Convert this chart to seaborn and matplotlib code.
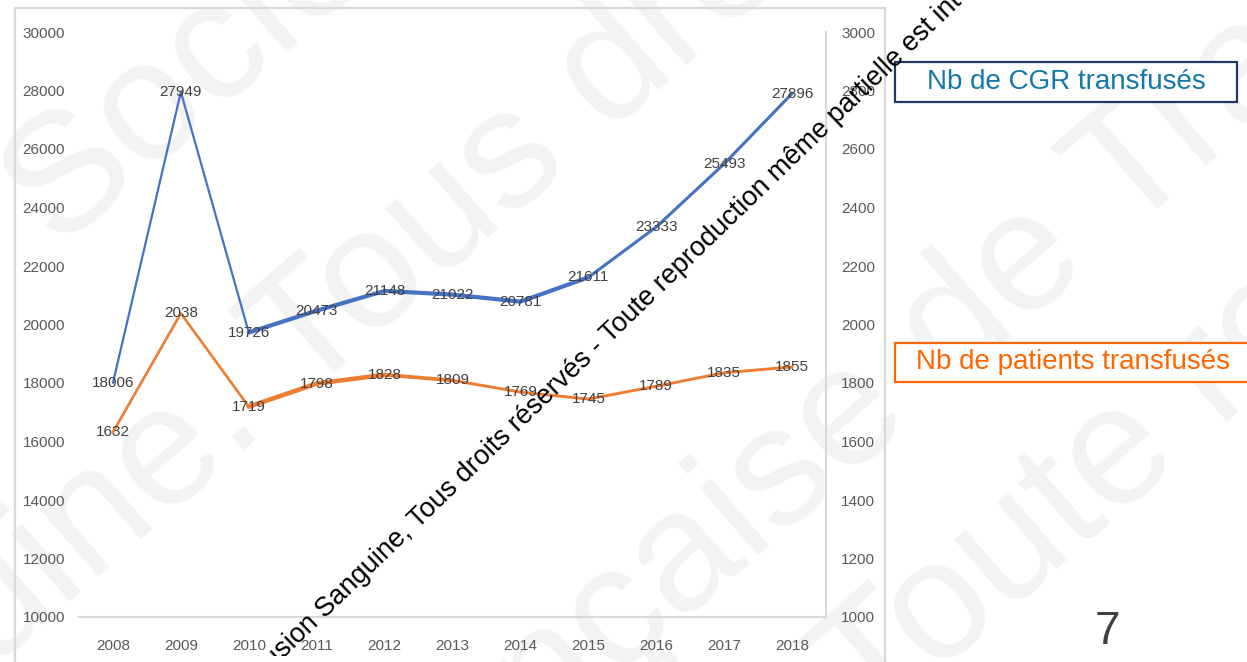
import numpy as np
import matplotlib
matplotlib.use("Agg")
import matplotlib.pyplot as plt
from matplotlib.patches import Rectangle
import seaborn as sns

# ---- data ----
years = ["2008", "2009", "2010", "2011", "2012", "2013", "2014", "2015", "2016", "2017", "2018"]
cgr_transfuses = [18006, 27949, 19726, 20473, 21148, 21022, 20781, 21611, 23333, 25493, 27896]
patients_transfuses = [1632, 2038, 1719, 1798, 1828, 1809, 1769, 1745, 1789, 1835, 1855]

left_ticks = list(range(10000, 30001, 2000))
right_ticks = list(range(1000, 3001, 200))

label_cgr = "Nb de CGR transfusés"
label_patients = "Nb de patients transfusés"
page_number = "7"

BLUE = "#4472C4"
ORANGE = "#ED7D31"
NUM_FONT = ["Liberation Sans", "DejaVu Sans"]
NUM_SIZE = 11

sns.set_theme(style="white")
plt.rcParams["font.family"] = ["Liberation Sans", "DejaVu Sans"]

W, H = 1247, 662
fig = plt.figure(figsize=(W / 100, H / 100), dpi=100)
fig.patch.set_facecolor("white")


def fx(px):
    return px / W


def fy(py):
    return 1 - py / H


# ---- faint background watermark ----
WM_COLOR = "#F3F3F3"
WM_SIZE = 122
WM_ROT = 41
wm_lines = [
    ((58, 251), "", "Société Française de Transfusion"),
    ((62, 608), "Transfusion Sangu", "ine. Tous droits réservés"),
    ((1020, 328), "Société Française d", "e Transfusion Sanguine"),
    ((870, 732), "", "Toute reproduction même"),
]
for (px, py), before, after in wm_lines:
    for txt, ha in ((before, "right"), (after, "left")):
        if txt:
            fig.text(fx(px), fy(py), txt, fontsize=WM_SIZE, color=WM_COLOR,
                     rotation=WM_ROT, rotation_mode="anchor", ha=ha, va="baseline",
                     family=["Liberation Sans", "DejaVu Sans"], zorder=-5)

# outer light frame around the chart
fig.patches.append(Rectangle((fx(15), fy(700)), fx(885) - fx(15), fy(8) - fy(700),
                             transform=fig.transFigure, fill=False,
                             edgecolor="#D9D9D9", linewidth=1.6, zorder=-1))

# ---- axes ----
ax = fig.add_axes([fx(79), fy(617), fx(826) - fx(79), fy(32) - fy(617)])
ax.set_facecolor("none")
ax2 = ax.twinx()
ax2.set_facecolor("none")

x = np.arange(len(years))

# CGR series, with the stroke widths varying along the line
cgr_widths = [(0, 2, 1.6), (2, 7, 3.0), (7, 10, 2.2)]
for a, b, w in cgr_widths:
    sns.lineplot(x=x[a:b + 1], y=cgr_transfuses[a:b + 1], ax=ax, color=BLUE,
                 linewidth=w, solid_capstyle="round", solid_joinstyle="round",
                 legend=False, zorder=3)

pat_widths = [(0, 2, 1.9), (2, 4, 3.3), (4, 5, 2.7), (5, 10, 2.1)]
for a, b, w in pat_widths:
    sns.lineplot(x=x[a:b + 1], y=patients_transfuses[a:b + 1], ax=ax2, color=ORANGE,
                 linewidth=w, solid_capstyle="round", solid_joinstyle="round",
                 legend=False, zorder=3)

# data labels centred on the points
for i, v in enumerate(cgr_transfuses):
    ax.text(x[i], v, f"{v}", ha="center", va="center", fontsize=NUM_SIZE,
            color="#404040", family=NUM_FONT, zorder=5)
for i, v in enumerate(patients_transfuses):
    ax2.text(x[i], v, f"{v}", ha="center", va="center", fontsize=NUM_SIZE,
             color="#404040", family=NUM_FONT, zorder=5)

ax.set_xlim(-0.5, len(years) - 0.5)
ax.set_ylim(left_ticks[0], left_ticks[-1])
ax2.set_ylim(right_ticks[0], right_ticks[-1])

ax.set_xticks(x)
ax.set_xticklabels(years)
ax.set_yticks(left_ticks)
ax.set_yticklabels([str(t) for t in left_ticks])
ax2.set_yticks(right_ticks)
ax2.set_yticklabels([str(t) for t in right_ticks])

for a_ in (ax, ax2):
    a_.set_xlabel("")
    a_.set_ylabel("")
    a_.grid(False)
    for s in a_.spines.values():
        s.set_visible(False)
    for lab in a_.get_xticklabels() + a_.get_yticklabels():
        lab.set_family(NUM_FONT)
        lab.set_fontsize(NUM_SIZE)
        lab.set_color("#595959")

ax.tick_params(axis="x", length=0, pad=15.5)
ax.tick_params(axis="y", length=0, pad=10)
ax2.tick_params(axis="y", length=0, pad=11)

ax.spines["bottom"].set_visible(True)
ax.spines["bottom"].set_color("#D9D9D9")
ax.spines["bottom"].set_linewidth(1.5)
ax2.spines["right"].set_visible(True)
ax2.spines["right"].set_color("#D9D9D9")
ax2.spines["right"].set_linewidth(1.5)

# ---- series captions in boxes ----
fig.patches.append(Rectangle((fx(895), fy(102)), fx(1237) - fx(895), fy(62) - fy(102),
                             transform=fig.transFigure, fill=True, facecolor="white",
                             edgecolor="#203864", linewidth=1.6, zorder=2))
fig.text(fx(1066), fy(82), label_cgr, ha="center", va="center", fontsize=20,
         color="#1479A8", zorder=3)

fig.patches.append(Rectangle((fx(895), fy(382)), fx(1265) - fx(895), fy(343) - fy(382),
                             transform=fig.transFigure, fill=True, facecolor="white",
                             edgecolor="#FF6600", linewidth=1.6, zorder=2))
fig.text(fx(1073), fy(362), label_patients, ha="center", va="center", fontsize=20,
         color="#FF6600", zorder=3)

# page number
fig.text(fx(1107), fy(632), page_number, ha="center", va="center", fontsize=33,
         color="#404040", zorder=3)

# ---- copyright notice across the chart (clipped at the slide image edge) ----
NOTE_ROT = 44
NOTE_SIZE = 19.5
anchor = (fx(284), fy(659))
note_clip = Rectangle((0, fy(656)), 1, 1 - fy(656) + 0.01, transform=fig.transFigure)
for txt, ha in (("© Société Française de Transfu", "right"),
                ("sion Sanguine, Tous droits réservés - Toute reproduction même partielle est interdite", "left")):
    t = fig.text(*anchor, txt, fontsize=NOTE_SIZE, color="black", rotation=NOTE_ROT,
                 rotation_mode="anchor", ha=ha, va="baseline", zorder=10)
    t.set_clip_path(note_clip)

fig.savefig("out.png", dpi=100, facecolor="white")
